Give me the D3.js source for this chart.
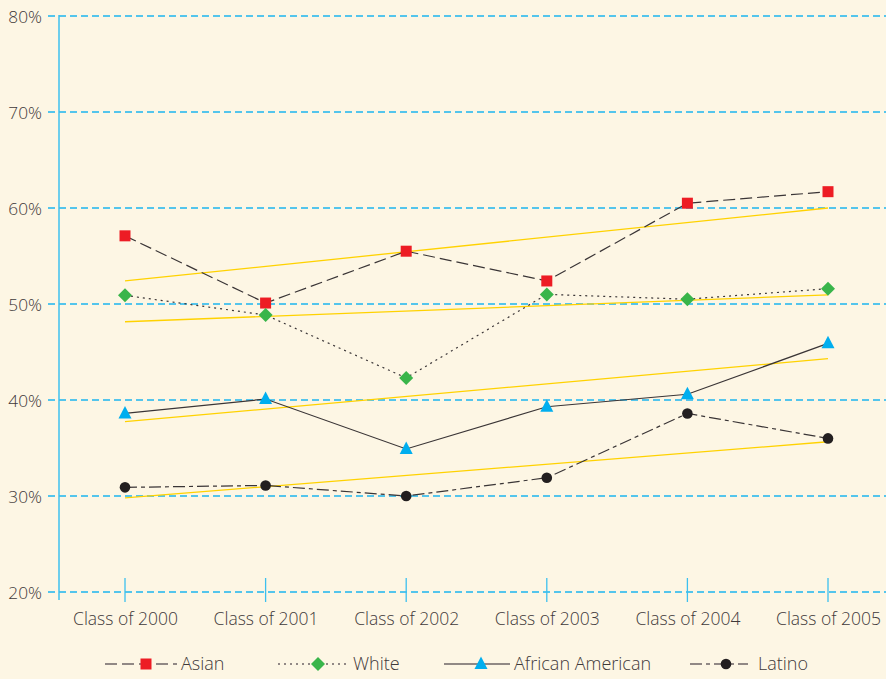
<!DOCTYPE html>
<html><head><meta charset="utf-8">
<script src="https://cdn.jsdelivr.net/npm/d3@7"></script>
<style>
html,body{margin:0;padding:0;background:#fdf6e4;}
svg{display:block;}
text{font-family:"Open Sans",sans-serif;font-weight:300;fill:#3f393a;}
</style></head>
<body>
<svg id="chart" width="886" height="679"></svg>
<script>
const categories = ["Class of 2000","Class of 2001","Class of 2002","Class of 2003","Class of 2004","Class of 2005"];
const asian = [57.1, 50.1, 55.5, 52.4, 60.5, 61.7];
const white = [50.9, 48.85, 42.3, 51.0, 50.5, 51.6];
const africanAmerican = [38.6, 40.1, 34.9, 39.3, 40.6, 45.9];
const latino = [30.9, 31.1, 30.0, 31.9, 38.6, 36.0];
// trend line endpoints (start, end)
const asianTrend = [52.4, 60.0];
const whiteTrend = [48.15, 50.95];
const africanAmericanTrend = [37.75, 44.3];
const latinoTrend = [29.8, 35.65];
const yTicks = [20, 30, 40, 50, 60, 70, 80];

const series = [
  {name:"Asian", values:asian, trend:asianTrend, dash:"12,5", marker:"square", color:"#ed1c24", lx:105, lx2:177, mx:146, tx:181},
  {name:"White", values:white, trend:whiteTrend, dash:"2,4", marker:"diamond", color:"#39b54a", lx:278, lx2:346, mx:318, tx:353},
  {name:"African American", values:africanAmerican, trend:africanAmericanTrend, dash:null, marker:"triangle", color:"#00aeef", lx:444, lx2:510, mx:481, tx:514},
  {name:"Latino", values:latino, trend:latinoTrend, dash:"12,4,4,4", marker:"circle", color:"#231f20", lx:690, lx2:748, mx:726, tx:758}
];

const svg = d3.select("#chart");
const x = d3.scalePoint().domain(categories).range([125, 828]);
const y = d3.scaleLinear().domain([20, 80]).range([592, 16]);

// y tick labels
const yAxis = d3.axisLeft(y).tickValues(yTicks).tickFormat(d => d + "%").tickSize(0).tickPadding(0);
const gy = svg.append("g").attr("transform","translate(42,0)").call(yAxis);
gy.select(".domain").remove();
gy.selectAll("text").attr("font-size",17.3).attr("fill","#3f393a").attr("x",0).attr("dy","0.35em").attr("text-anchor","end");

// gridlines
svg.append("g").selectAll("line").data(yTicks).join("line")
  .attr("x1",48).attr("x2",886).attr("y1",d=>y(d)).attr("y2",d=>y(d))
  .attr("stroke","#1cb5ee").attr("stroke-width",1.3).attr("stroke-dasharray","7,4");

// y axis line
svg.append("line").attr("x1",59).attr("x2",59).attr("y1",15).attr("y2",600)
  .attr("stroke","#3cc0ef").attr("stroke-width",1.5);

// x axis labels and ticks
const xAxis = d3.axisBottom(x).tickSize(0).tickPadding(0);
const gx = svg.append("g").attr("transform","translate(0,619)").call(xAxis);
gx.select(".domain").remove();
gx.selectAll("text").attr("font-size",17.5).attr("fill","#3f393a").attr("y",0).attr("dy","0.35em");
svg.append("g").selectAll("line").data(categories).join("line")
  .attr("x1",d=>x(d)).attr("x2",d=>x(d)).attr("y1",578).attr("y2",602)
  .attr("stroke","#3cc0ef").attr("stroke-width",1.3);

// trend lines
series.forEach(s=>{
  svg.append("line")
    .attr("x1",x(categories[0])).attr("x2",x(categories[categories.length-1]))
    .attr("y1",y(s.trend[0])).attr("y2",y(s.trend[1]))
    .attr("stroke","#ffd200").attr("stroke-width",1.3);
});

const line = d3.line().x((d,i)=>x(categories[i])).y(d=>y(d));
series.forEach(s=>{
  svg.append("path").datum(s.values).attr("d",line)
    .attr("fill","none").attr("stroke","#3a3536").attr("stroke-width",1.2)
    .attr("stroke-dasharray", s.dash);
});

function drawMarker(g, type, color, cx, cy){
  if(type==="square") g.append("rect").attr("x",cx-5.5).attr("y",cy-5.5).attr("width",11).attr("height",11).attr("fill",color);
  else if(type==="diamond") g.append("path").attr("d",`M${cx},${cy-7}L${cx+7},${cy}L${cx},${cy+7}L${cx-7},${cy}Z`).attr("fill",color);
  else if(type==="triangle") g.append("path").attr("d",`M${cx},${cy-7.5}L${cx+6.5},${cy+5}L${cx-6.5},${cy+5}Z`).attr("fill",color);
  else g.append("circle").attr("cx",cx).attr("cy",cy).attr("r",5.3).attr("fill",color);
}
series.forEach(s=>{
  const g = svg.append("g");
  s.values.forEach((v,i)=>drawMarker(g, s.marker, s.color, x(categories[i]), y(v)));
});

// legend
const ly = 664;
series.forEach(s=>{
  const g = svg.append("g");
  g.append("line").attr("x1",s.lx).attr("x2",s.lx2).attr("y1",ly).attr("y2",ly)
    .attr("stroke","#6d6466").attr("stroke-width",1.3).attr("stroke-dasharray", s.dash);
  drawMarker(g, s.marker, s.color, s.mx, ly);
  g.append("text").attr("x",s.tx).attr("y",ly).attr("dy","0.35em").attr("font-size",18).text(s.name);
});
</script>
</body></html>
